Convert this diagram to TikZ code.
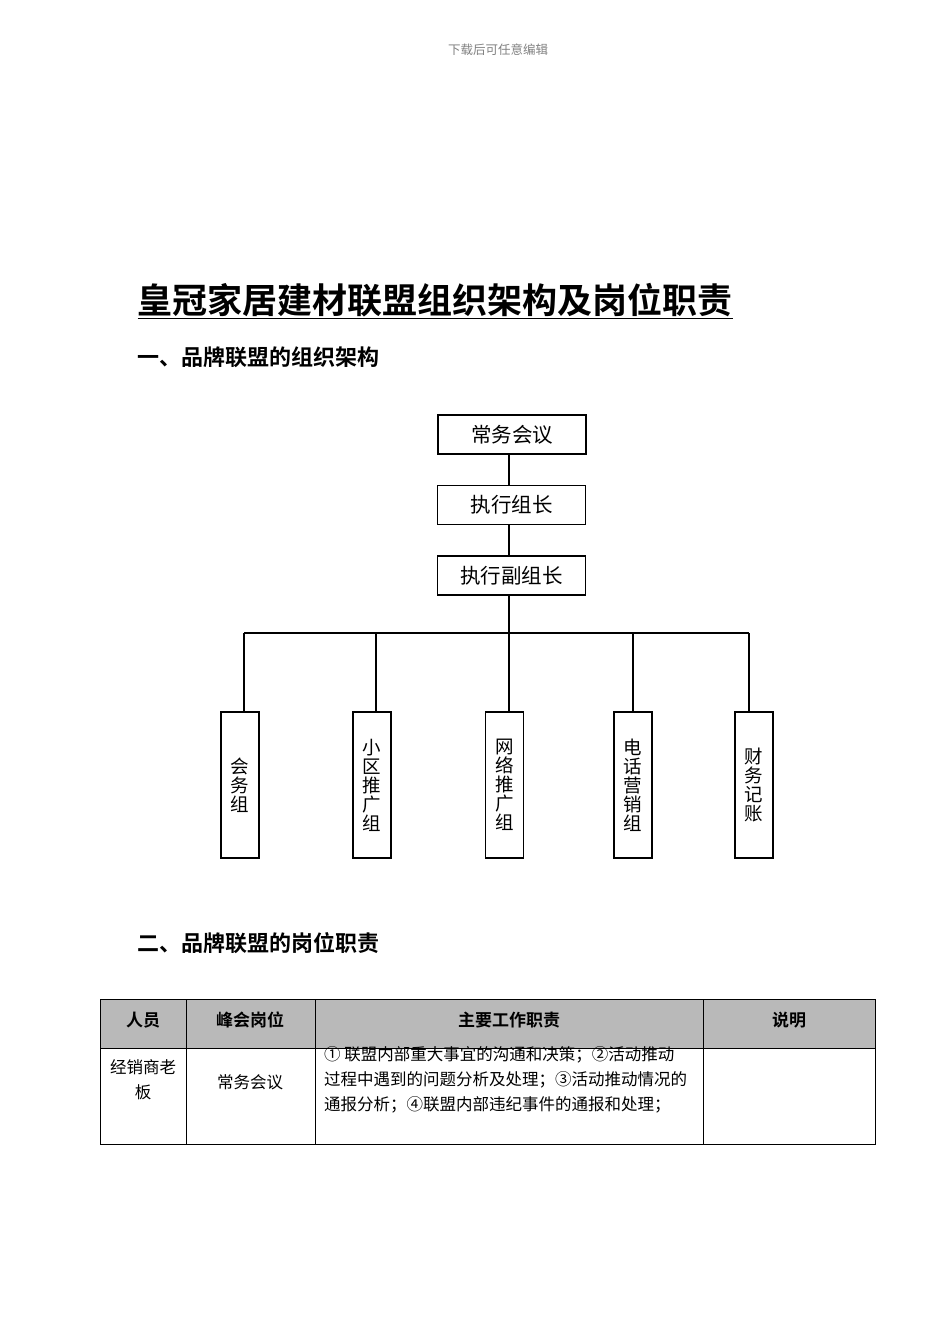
\documentclass[tikz,border=0pt]{standalone}
\usepackage{fontspec}
\setmainfont{Noto Sans CJK SC}
\newfontfamily\cjkb{Noto Sans CJK SC Bold}
\begin{document}
\begin{tikzpicture}[x=1pt,y=-1pt,
  box/.style={draw,line width=1.3pt,minimum width=148pt,minimum height=39pt,font=\fontsize{20.5}{20}\selectfont,inner sep=0pt},
  vbox/.style={draw,line width=1.3pt,minimum width=38pt,minimum height=146pt,font=\fontsize{18.5}{19}\selectfont,align=center,inner sep=0pt},
  ln/.style={line width=1.2pt},
  cell/.style={font=\fontsize{16.5}{25}\selectfont}]
\useasboundingbox (0,0) rectangle (950,1344);
\node[gray,font=\fontsize{12.5}{12}\selectfont] (hdr) at (498,50) {下载后可任意编辑};
\node[anchor=west,font=\cjkb\fontsize{35}{35}\selectfont] (title) at (134,301) {\underline{皇冠家居建材联盟组织架构及岗位职责}};
\node[anchor=west,font=\cjkb\fontsize{22}{22}\selectfont] (h1) at (134,357) {一、品牌联盟的组织架构};
\node[anchor=west,font=\cjkb\fontsize{22}{22}\selectfont] (h2) at (134,943) {二、品牌联盟的岗位职责};
\node[box] (a) at (512,434.5) {常务会议};
\node[box] (b) at (511.5,505) {执行组长};
\node[box] (c) at (511.5,575.5) {执行副组长};
\node[vbox] (d1) at (240,785) {会\\务\\组};
\node[vbox] (d2) at (372,785) {小\\区\\推\\广\\组};
\node[vbox] (d3) at (504.5,785) {网\\络\\推\\广\\组};
\node[vbox] (d4) at (633,785) {电\\话\\营\\销\\组};
\node[vbox] (d5) at (754,785) {财\\务\\记\\账};
\coordinate (bus) at (509,633);
\draw[ln] (a.south -| bus) -- (b.north -| bus);
\draw[ln] (b.south -| bus) -- (c.north -| bus);
\draw[ln] (c.south -| bus) -- (bus);
\draw[ln] (244,633) -- (749,633);
\draw[ln] (244,633) -- (244,712);
\draw[ln] (376,633) -- (376,712);
\draw[ln] (509,633) -- (509,712);
\draw[ln] (633,633) -- (633,712);
\draw[ln] (749,633) -- (749,712);
% table
\fill[gray!55] (100,999) rectangle (875,1048);
\draw[line width=0.8pt] (100,999) rectangle (875,1144);
\draw[line width=0.8pt] (100,1048) -- (875,1048);
\foreach \x in {186,315,703} \draw[line width=0.8pt] (\x,999) -- (\x,1144);
\node[font=\cjkb\fontsize{17}{17}\selectfont] (t1) at (143,1020) {人员};
\node[font=\cjkb\fontsize{17}{17}\selectfont] (t2) at (250,1020) {峰会岗位};
\node[font=\cjkb\fontsize{17}{17}\selectfont] (t3) at (509,1020) {主要工作职责};
\node[font=\cjkb\fontsize{17}{17}\selectfont] (t4) at (789,1020) {说明};
\node[cell,align=center] (r1) at (143,1080) {经销商老\\板};
\node[cell] (r2) at (250,1082) {常务会议};
\node[cell,anchor=north west,align=left,inner sep=0pt] (r3) at (324,1046) {① 联盟内部重大事宜的沟通和决策；②活动推动\\过程中遇到的问题分析及处理；③活动推动情况的\\通报分析；④联盟内部违纪事件的通报和处理；};
\end{tikzpicture}
\end{document}
